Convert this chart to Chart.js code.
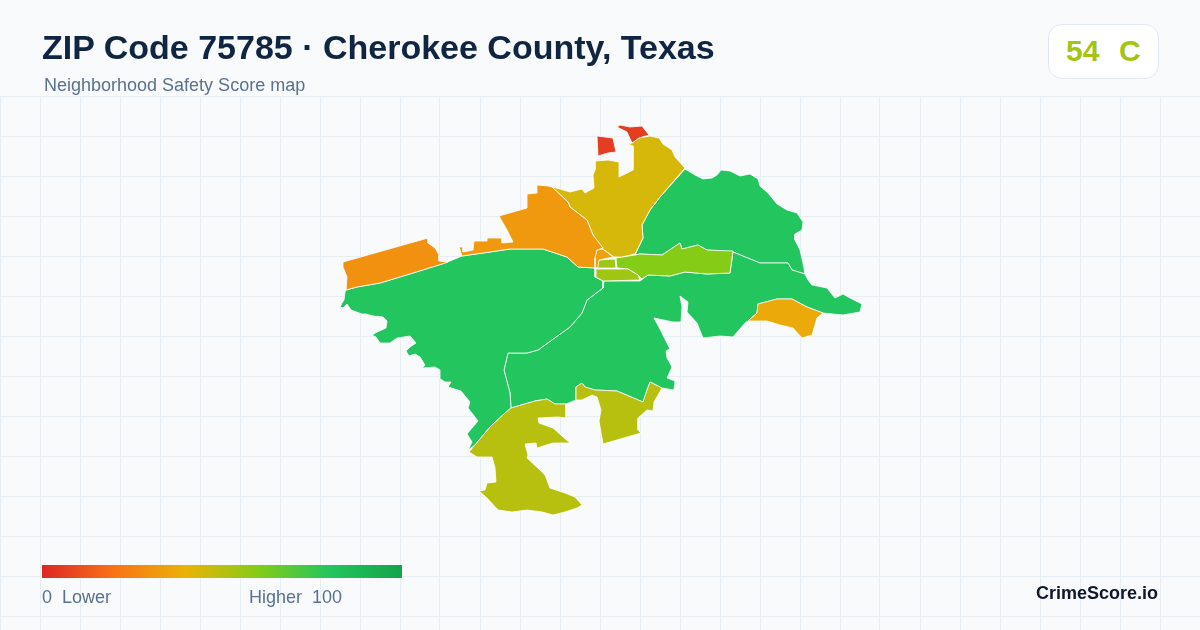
<!DOCTYPE html>
<html>
<head>
<meta charset="utf-8">
<title>ZIP Code 75785</title>
<script src="https://cdn.jsdelivr.net/npm/chart.js@4/dist/chart.umd.min.js"></script>
<style>
  html, body { margin: 0; padding: 0; width: 1200px; height: 630px; overflow: hidden; background: #f8fafc; font-family: "Liberation Sans", Arial, sans-serif; }
  canvas { position: absolute; left: 0; top: 0; }
  .txt { position: absolute; white-space: pre; }
  #title { left: 42px; top: 27px; font-size: 34px; line-height: 40px; font-weight: 700; color: #0f2541; }
  #sub { left: 44px; top: 75px; font-size: 18px; line-height: 20px; color: #5a7190; }
  #badge { position: absolute; left: 1048px; top: 24px; width: 109px; height: 53px; background: #fff; border: 1px solid #e2e8f0; border-radius: 14px; }
  #grade { left: 1066px; top: 33px; font-size: 30px; line-height: 36px; font-weight: 700; color: #a3c413; word-spacing: 1.5px; }
  #bar { position: absolute; left: 42px; top: 565px; width: 360px; height: 13px; background: linear-gradient(90deg, #dc2626, #f97316 20%, #eab308 40%, #84cc16 60%, #22c55e 80%, #16a34a); }
  #low { left: 42px; top: 587px; font-size: 18px; line-height: 20px; color: #5a7190; }
  #high { left: 249px; top: 587px; font-size: 18px; line-height: 20px; color: #5a7190; }
  #brand { right: 42px; top: 582px; font-size: 18px; line-height: 22px; font-weight: 700; color: #0f172a; }
</style>
</head>
<body>
<canvas id="map" width="1200" height="630"></canvas>
<div class="txt" id="title">ZIP Code 75785 · Cherokee County, Texas</div>
<div class="txt" id="sub">Neighborhood Safety Score map</div>
<div id="badge"></div>
<div class="txt" id="grade">54  C</div>
<div id="bar"></div>
<div class="txt" id="low">0  Lower</div>
<div class="txt" id="high">Higher  100</div>
<div class="txt" id="brand">CrimeScore.io</div>
<script>
// tract outlines
const westStrip = [[343,262],[428,238],[428,243],[435,248],[439,255],[439,261],[448,262],[442,264],[413,273],[380,283],[357,287],[346,290],[347,277],[343,267],[343,262]];
const westCentre = [[459,247],[463,247],[463,252],[473,250],[474,241],[487,241],[487,238],[502,238],[502,243],[513,242],[507,230],[499,216],[527,208],[527,194],[537,193],[537,185],[548,186],[552,187],[568,202],[570,207],[587,220],[593,235],[603,248],[597,250],[595,258],[595,268],[578,267],[567,257],[543,249],[520,249],[510,249],[490,252],[462,256],[459,247]];
const westGreen = [[345,292],[346,290],[357,287],[380,283],[413,273],[442,264],[450,261],[462,256],[490,252],[510,249],[520,249],[543,249],[567,257],[578,267],[595,268],[595,277],[603,281],[603,288],[587,300],[582,313],[570,327],[538,350],[527,353],[508,353],[504,370],[510,393],[511,408],[505,413],[490,427],[475,445],[468,450],[472,442],[467,434],[472,428],[478,421],[468,408],[470,402],[461,391],[448,387],[451,382],[445,382],[439,378],[440,370],[435,367],[422,368],[425,365],[420,357],[415,354],[409,356],[406,351],[410,347],[416,343],[410,336],[397,338],[390,343],[380,343],[376,337],[372,335],[377,332],[386,328],[387,321],[383,317],[373,316],[366,314],[362,314],[351,310],[347,304],[343,308],[340,307],[342,303],[344,300],[345,292]];
const southEast = [[604,281],[640,281],[648,275],[670,276],[685,272],[707,274],[730,273],[733,252],[760,263],[788,263],[792,270],[805,274],[808,280],[812,285],[827,288],[835,298],[843,294],[850,298],[862,304],[860,312],[843,315],[823,313],[807,307],[792,299],[777,299],[758,304],[757,313],[748,321],[745,323],[733,337],[720,336],[703,338],[697,323],[687,312],[688,302],[680,296],[682,307],[681,322],[673,322],[654,318],[661,331],[670,349],[666,351],[667,358],[672,367],[667,378],[675,381],[674,390],[662,388],[650,382],[646,393],[643,402],[617,391],[595,390],[585,387],[582,383],[576,387],[576,400],[566,404],[555,404],[547,399],[535,401],[511,408],[510,393],[504,370],[508,353],[527,353],[538,350],[570,327],[582,313],[587,300],[603,288],[604,281]];
const eastGold = [[748,321],[757,313],[758,304],[777,299],[792,299],[807,307],[823,313],[817,318],[812,335],[802,338],[793,328],[780,325],[767,321],[748,321]];
const northEast = [[685,169],[695,175],[703,179],[712,178],[717,175],[721,170],[730,171],[740,176],[750,174],[758,179],[760,186],[768,193],[777,204],[787,210],[797,213],[803,222],[802,230],[795,234],[795,240],[800,250],[804,268],[805,274],[792,270],[788,263],[760,263],[733,252],[707,250],[698,245],[682,249],[680,243],[662,255],[640,254],[635,255],[643,238],[642,225],[650,210],[660,197],[685,169]];
const northGold = [[685,168],[675,157],[672,150],[663,144],[659,138],[650,136],[639,138],[632,143],[628,144],[633,146],[633,170],[619,177],[619,162],[608,160],[595,161],[595,170],[593,175],[594,188],[585,193],[582,189],[570,192],[560,189],[552,187],[568,202],[570,207],[587,220],[593,235],[603,249],[614,257],[622,257],[635,254],[643,238],[642,225],[650,210],[660,197],[685,168]];
const redWest = [[597,136],[613,138],[616,152],[608,153],[598,156],[597,136]];
const redEast = [[617,127],[620,125],[630,127],[642,126],[649,135],[639,138],[632,143],[627,132],[617,127]];
const limeStrip = [[616,258],[635,255],[640,254],[662,255],[680,243],[682,249],[698,245],[707,250],[733,251],[730,273],[707,274],[685,272],[670,276],[648,275],[642,279],[638,275],[628,269],[617,268],[616,258]];
const cityLower = [[596,269],[628,269],[638,275],[640,280],[603,281],[596,277],[596,269]];
const cityMiddle = [[599,260],[615,259],[616,268],[596,268],[597,263],[599,260]];
const cityOrange = [[597,250],[603,249],[613,257],[599,260],[598,267],[595,268],[594,260],[597,250]];
const southOlive = [[511,408],[535,401],[547,399],[555,404],[566,404],[566,418],[558,417],[538,418],[539,423],[553,428],[570,443],[553,443],[537,448],[536,443],[525,444],[528,455],[527,458],[540,470],[545,475],[550,488],[565,493],[575,497],[582,505],[577,508],[565,512],[553,515],[542,512],[527,510],[512,512],[498,510],[487,498],[479,491],[485,490],[487,483],[496,482],[495,468],[492,457],[477,457],[469,452],[475,445],[490,427],[505,413],[511,408]];
const southRight = [[576,387],[582,383],[585,387],[595,390],[617,391],[643,402],[646,393],[650,382],[662,388],[654,402],[653,411],[647,410],[638,418],[638,430],[641,433],[603,444],[599,421],[601,410],[597,397],[592,395],[582,400],[576,400],[576,387]];

const regions = [redWest, redEast, westStrip, westCentre, northGold, eastGold, southOlive, southRight, cityOrange, cityMiddle, cityLower, limeStrip, westGreen, southEast, northEast];
const scores = [6, 6, 29, 32, 44, 37, 50, 50, 34, 55, 55, 60, 80, 80, 80];

// legend stops, the tracts take their colour from the same ramp
const rampStops = [0, 20, 40, 60, 80, 100];
const rampColors = [[220,38,38],[249,115,22],[234,179,8],[132,204,22],[34,197,94],[22,163,74]];

function scoreColor(s) {
  let i = 0;
  while (i < rampStops.length - 2 && s > rampStops[i + 1]) i++;
  const t = (s - rampStops[i]) / (rampStops[i + 1] - rampStops[i]);
  const c = rampColors[i].map((v, k) => Math.round(v + (rampColors[i + 1][k] - v) * t));
  return 'rgb(' + c.join(',') + ')';
}

new Chart(document.getElementById('map'), {
  type: 'scatter',
  data: {
    datasets: regions.map((shape, i) => ({
      data: shape.map(p => ({ x: p[0], y: p[1] })),
      showLine: true,
      fill: 'shape',
      tension: 0,
      pointRadius: 0,
      borderWidth: 0.8,
      borderColor: '#ffffff',
      backgroundColor: scoreColor(scores[i]),
    }))
  },
  options: {
    responsive: false,
    animation: false,
    devicePixelRatio: 1,
    layout: { padding: { top: 96 } },
    plugins: { legend: { display: false }, tooltip: { enabled: false } },
    scales: {
      x: {
        min: 0, max: 1200,
        ticks: { display: false, stepSize: 40 },
        grid: { color: '#e6eef3', drawTicks: false },
        border: { display: false },
      },
      y: {
        reverse: true,
        min: 96, max: 630,
        afterBuildTicks: axis => {
          const t = [];
          for (let v = 96; v <= 630; v += 40) t.push({ value: v });
          axis.ticks = t;
        },
        ticks: { display: false },
        grid: { color: '#e6eef3', drawTicks: false },
        border: { display: false },
      }
    }
  }
});
</script>
</body>
</html>
